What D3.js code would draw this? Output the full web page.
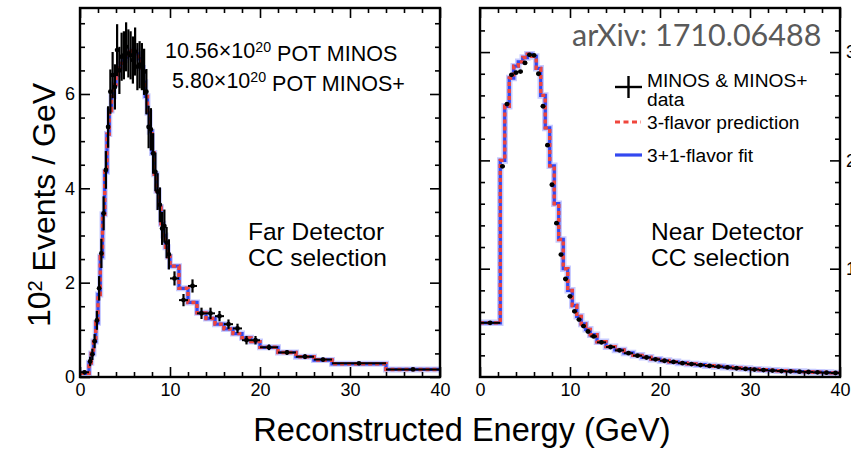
<!DOCTYPE html>
<html><head><meta charset="utf-8">
<script src="https://cdn.jsdelivr.net/npm/d3@7"></script>
<style>body{margin:0;background:#fff}svg{display:block}</style>
</head><body>
<svg id="c" width="851" height="449"></svg>
<script>
// ---------------- DATA ----------------
const xTicksMajor = [0, 10, 20, 30, 40];
const xTicksMinor = [2, 4, 6, 8, 12, 14, 16, 18, 22, 24, 26, 28, 32, 34, 36, 38];
const farYMajor = [0, 2, 4, 6];
const farYMinor = [0.5, 1, 1.5, 2.5, 3, 3.5, 4.5, 5, 5.5, 6.5, 7, 7.5];
const nearYMajor = [1, 2, 3];
const nearYMinor = [0.2, 0.4, 0.6, 0.8, 1.2, 1.4, 1.6, 1.8, 2.2, 2.4, 2.6, 2.8, 3.2];

// Far Detector: bin edges (GeV), prediction, data, data errors (10^2 events / GeV)
const farEdges = [0, 1, 1.25, 1.5, 1.75, 2, 2.25, 2.5, 2.75, 3, 3.25, 3.5, 3.75, 4, 4.25, 4.5, 4.75, 5, 5.25, 5.5, 5.75,
  6, 6.25, 6.5, 6.75, 7, 7.25, 7.5, 7.75, 8, 8.25, 8.5, 8.75, 9, 9.25, 9.5, 9.75, 10,
  11, 12, 13, 14, 15, 16, 17, 18, 19, 20, 22, 24, 26, 28, 34, 40];
const farPred = [0.08,
  0.30, 0.50, 0.75, 1.15, 1.75, 2.55, 3.45, 4.35, 5.15, 5.65,
  5.95, 6.2, 6.4, 6.55, 6.65, 6.72, 6.78, 6.85, 6.9, 6.92,
  6.9, 6.85, 6.75, 6.55, 6.25, 5.95, 5.6, 5.2, 4.75, 4.3,
  3.95, 3.6, 3.25, 3.0, 2.75, 2.55,
  2.35, 1.88, 1.58, 1.36, 1.24, 1.12, 1.02, 0.92, 0.83, 0.75,
  0.63, 0.52, 0.43, 0.36, 0.28, 0.16];
const farData = [0.1,
  0.33, 0.48, 0.76, 1.2, 1.88, 2.62, 3.47, 4.39, 5.3, 6.05,
  6.4, 6.15, 6.93, 6.5, 6.79, 6.82, 7.0, 6.86, 6.82, 6.72,
  6.9, 6.58, 6.62, 6.58, 6.47, 6.05, 5.3, 5.25, 4.74, 4.35,
  3.93, 3.65, 3.15, 3.2, 2.85, 2.6,
  2.09, 1.63, 1.93, 1.35, 1.35, 1.29, 1.12, 1.03, 0.78, 0.78,
  0.63, 0.52, 0.43, 0.37, 0.29, 0.16];
const farErr = [0.04,
  0.1, 0.12, 0.15, 0.2, 0.26, 0.31, 0.36, 0.4, 0.44, 0.47,
  0.49, 0.48, 0.55, 0.5, 0.51, 0.51, 0.52, 0.51, 0.51, 0.5,
  0.51, 0.5, 0.5, 0.5, 0.49, 0.48, 0.45, 0.45, 0.43, 0.41,
  0.39, 0.37, 0.35, 0.35, 0.33, 0.32,
  0.15, 0.13, 0.14, 0.12, 0.12, 0.11, 0.1, 0.1, 0.09, 0.09,
  0.06, 0.05, 0.05, 0.04, 0.02, 0.02];

// Near Detector: bin edges, prediction, data (scale of its right-hand axis)
const nearEdges = [0, 2.25, 2.75, 3.25, 3.75, 4.25, 4.75, 5.25, 5.75, 6.25, 6.75, 7.25, 7.75, 8.25, 8.75, 9.25,
  9.75, 10.25, 10.75, 11.25, 11.75, 12.25, 13, 14, 15, 16, 17, 18, 19, 20, 21, 22, 23, 24, 25, 26, 27,
  28, 29, 30, 31, 32, 33, 34, 35, 36, 37, 38, 39, 40];
const nearPred = [0.5,
  2.0, 2.5, 2.76, 2.87, 2.91, 2.95, 2.98, 2.96, 2.85, 2.6,
  2.3, 1.95, 1.6, 1.27, 1.0, 0.8, 0.66, 0.56, 0.49, 0.44,
  0.39,
  0.325, 0.28, 0.25, 0.222, 0.2, 0.182, 0.165, 0.152, 0.14, 0.13,
  0.121, 0.113, 0.105, 0.098, 0.091, 0.084, 0.078, 0.072, 0.067, 0.062,
  0.058, 0.054, 0.05, 0.047, 0.044, 0.041, 0.038];
const nearData = [0.5,
  1.945, 2.52, 2.79, 2.81, 2.82, 2.9, 2.975, 2.97, 2.8, 2.5,
  2.14, 1.775, 1.42, 1.13, 0.905, 0.745, 0.606, 0.53, 0.47, 0.42,
  0.375,
  0.32, 0.277, 0.246, 0.22, 0.197, 0.18, 0.163, 0.15, 0.139, 0.128,
  0.119, 0.11, 0.102, 0.095, 0.088, 0.081, 0.075, 0.069, 0.064, 0.059,
  0.055, 0.052, 0.049, 0.046, 0.043, 0.04, 0.037];

const legendItems = ["MINOS & MINOS+", "data", "3-flavor prediction", "3+1-flavor fit"];

// ---------------- DRAW ----------------
const svg = d3.select("#c");
const FONT = "'Liberation Sans', Arial, Helvetica, sans-serif";
const BLUE = "#3348f0", RED = "#f0463c", BAND = "#9aa0ff";

const panels = [
  {x0: 80, x1: 440, yTop: 8, yBot: 377, ymax: 7.823, yMaj: farYMajor, yMin: farYMinor, leftLabels: true, rightLabels: false,
   edges: farEdges, pred: farPred, data: farData, err: farErr, band: 6},
  {x0: 480, x1: 840, yTop: 8, yBot: 377, ymax: 3.407, yMaj: nearYMajor, yMin: nearYMinor, leftLabels: false, rightLabels: true,
   edges: nearEdges, pred: nearPred, data: nearData, err: null, band: 6.5}
];

panels.forEach(p => {
  const x = d3.scaleLinear().domain([0, 40]).range([p.x0, p.x1]);
  const y = d3.scaleLinear().domain([0, p.ymax]).range([p.yBot, p.yTop]);
  const g = svg.append("g");

  const steps = [];
  p.pred.forEach((v, i) => { steps.push([p.edges[i], v]); steps.push([p.edges[i + 1], v]); });
  const line = d3.line().x(d => x(d[0])).y(d => y(d[1]));

  g.append("path").attr("d", line(steps)).attr("fill", "none").attr("stroke", BAND)
    .attr("stroke-opacity", 0.55).attr("stroke-width", p.band);
  g.append("path").attr("d", line(steps)).attr("fill", "none").attr("stroke", BLUE).attr("stroke-width", 3.3);
  g.append("path").attr("d", line(steps)).attr("fill", "none").attr("stroke", RED).attr("stroke-width", 3.4)
    .attr("stroke-dasharray", "4,3");

  // data
  const dg = g.append("g").attr("stroke", "#000");
  p.data.forEach((v, i) => {
    const a = p.edges[i], b = p.edges[i + 1], c = (a + b) / 2;
    dg.append("line").attr("x1", x(a)).attr("x2", x(b)).attr("y1", y(v)).attr("y2", y(v)).attr("stroke-width", 2);
    if (p.err) {
      dg.append("line").attr("x1", x(c)).attr("x2", x(c)).attr("y1", y(v - p.err[i])).attr("y2", y(v + p.err[i]))
        .attr("stroke-width", 2.2);
    }
    dg.append("circle").attr("cx", x(c)).attr("cy", y(v)).attr("r", 2.4).attr("fill", "#000").attr("stroke", "none");
  });

  // axes (ticks inward, ROOT style)
  const ax = (sel) => { sel.select(".domain").remove(); sel.selectAll("line").attr("stroke", "#000").attr("stroke-width", 1.6);
    sel.selectAll("text").attr("font-family", FONT).attr("font-size", 18).attr("fill", "#000"); };
  g.append("g").attr("transform", `translate(0,${p.yBot})`)
    .call(d3.axisBottom(x).tickValues(xTicksMajor).tickSize(-10).tickPadding(6).tickFormat(d3.format("d"))).call(ax);
  g.append("g").attr("transform", `translate(0,${p.yBot})`)
    .call(d3.axisBottom(x).tickValues(xTicksMinor).tickSize(-5).tickFormat("")).call(ax);
  g.append("g").attr("transform", `translate(0,${p.yTop})`)
    .call(d3.axisTop(x).tickValues(xTicksMajor).tickSize(-10).tickFormat("")).call(ax);
  g.append("g").attr("transform", `translate(0,${p.yTop})`)
    .call(d3.axisTop(x).tickValues(xTicksMinor).tickSize(-5).tickFormat("")).call(ax);
  g.append("g").attr("transform", `translate(${p.x0},0)`)
    .call(d3.axisLeft(y).tickValues(p.yMaj).tickSize(-10).tickPadding(5).tickFormat(p.leftLabels ? d3.format("d") : "")).call(ax);
  g.append("g").attr("transform", `translate(${p.x0},0)`)
    .call(d3.axisLeft(y).tickValues(p.yMin).tickSize(-5).tickFormat("")).call(ax);
  g.append("g").attr("transform", `translate(${p.x1},0)`)
    .call(d3.axisRight(y).tickValues(p.yMaj).tickSize(-10).tickPadding(6).tickFormat(p.rightLabels ? d3.format("d") : "")).call(ax);
  g.append("g").attr("transform", `translate(${p.x1},0)`)
    .call(d3.axisRight(y).tickValues(p.yMin).tickSize(-5).tickFormat("")).call(ax);

  g.append("rect").attr("x", p.x0).attr("y", p.yTop).attr("width", p.x1 - p.x0).attr("height", p.yBot - p.yTop)
    .attr("fill", "none").attr("stroke", "#000").attr("stroke-width", 2.4);
});

// annotations
function supText(xp, yp, parts, size, anchor) {
  const t = svg.append("text").attr("x", xp).attr("y", yp).attr("font-family", FONT).attr("font-size", size)
    .attr("fill", "#000").attr("text-anchor", anchor || "start");
  parts.forEach(pt => {
    if (pt.sup) {
      t.append("tspan").attr("dy", "-0.42em").attr("font-size", size * 0.66).text(pt.sup);
    } else {
      const ts = t.append("tspan").text(pt.t);
      if (pt.after) ts.attr("dy", "0.42em");
    }
  });
  return t;
}
supText(165, 58, [{t: "10.56×10"}, {sup: "20"}, {t: " POT MINOS", after: true}], 21.5);
supText(172, 88, [{t: "5.80×10"}, {sup: "20"}, {t: " POT MINOS+", after: true}], 21.5);

const big = [["Far Detector", 248, 240], ["CC selection", 248, 266], ["Near Detector", 651, 240], ["CC selection", 651, 266]];
big.forEach(d => svg.append("text").attr("x", d[1]).attr("y", d[2]).attr("font-family", FONT).attr("font-size", 24.5)
  .attr("fill", "#000").text(d[0]));

// legend
svg.append("line").attr("x1", 615).attr("x2", 642).attr("y1", 87).attr("y2", 87).attr("stroke", "#000").attr("stroke-width", 2.4);
svg.append("line").attr("x1", 628.5).attr("x2", 628.5).attr("y1", 76).attr("y2", 98).attr("stroke", "#000").attr("stroke-width", 2.4);
svg.append("line").attr("x1", 615).attr("x2", 641).attr("y1", 122).attr("y2", 122).attr("stroke", RED).attr("stroke-width", 3)
  .attr("stroke-dasharray", "5,3.5");
svg.append("line").attr("x1", 615).attr("x2", 642).attr("y1", 155).attr("y2", 155).attr("stroke", BLUE).attr("stroke-width", 3.2);
const legY = [87, 106, 129, 162];
legendItems.forEach((s, i) => svg.append("text").attr("x", 647).attr("y", legY[i]).attr("font-family", FONT)
  .attr("font-size", 19.2).attr("fill", "#000").text(s));

// arXiv tag
svg.append("text").attr("x", 572).attr("y", 46).attr("font-family", "Lato, 'Open Sans', sans-serif")
  .attr("font-size", 30.5).attr("fill", "#5a5a5a").text("arXiv: 1710.06488");

// axis titles
supText(462, 441, [{t: "Reconstructed Energy (GeV)"}], 32.5, "middle");
const yt = svg.append("text").attr("transform", "translate(50,205) rotate(-90)").attr("text-anchor", "middle")
  .attr("font-family", FONT).attr("font-size", 32).attr("fill", "#000");
yt.append("tspan").text("10");
yt.append("tspan").attr("dy", "-0.42em").attr("font-size", 20).text("2");
yt.append("tspan").attr("dy", "0.42em").text(" Events / GeV");
</script>
</body></html>
